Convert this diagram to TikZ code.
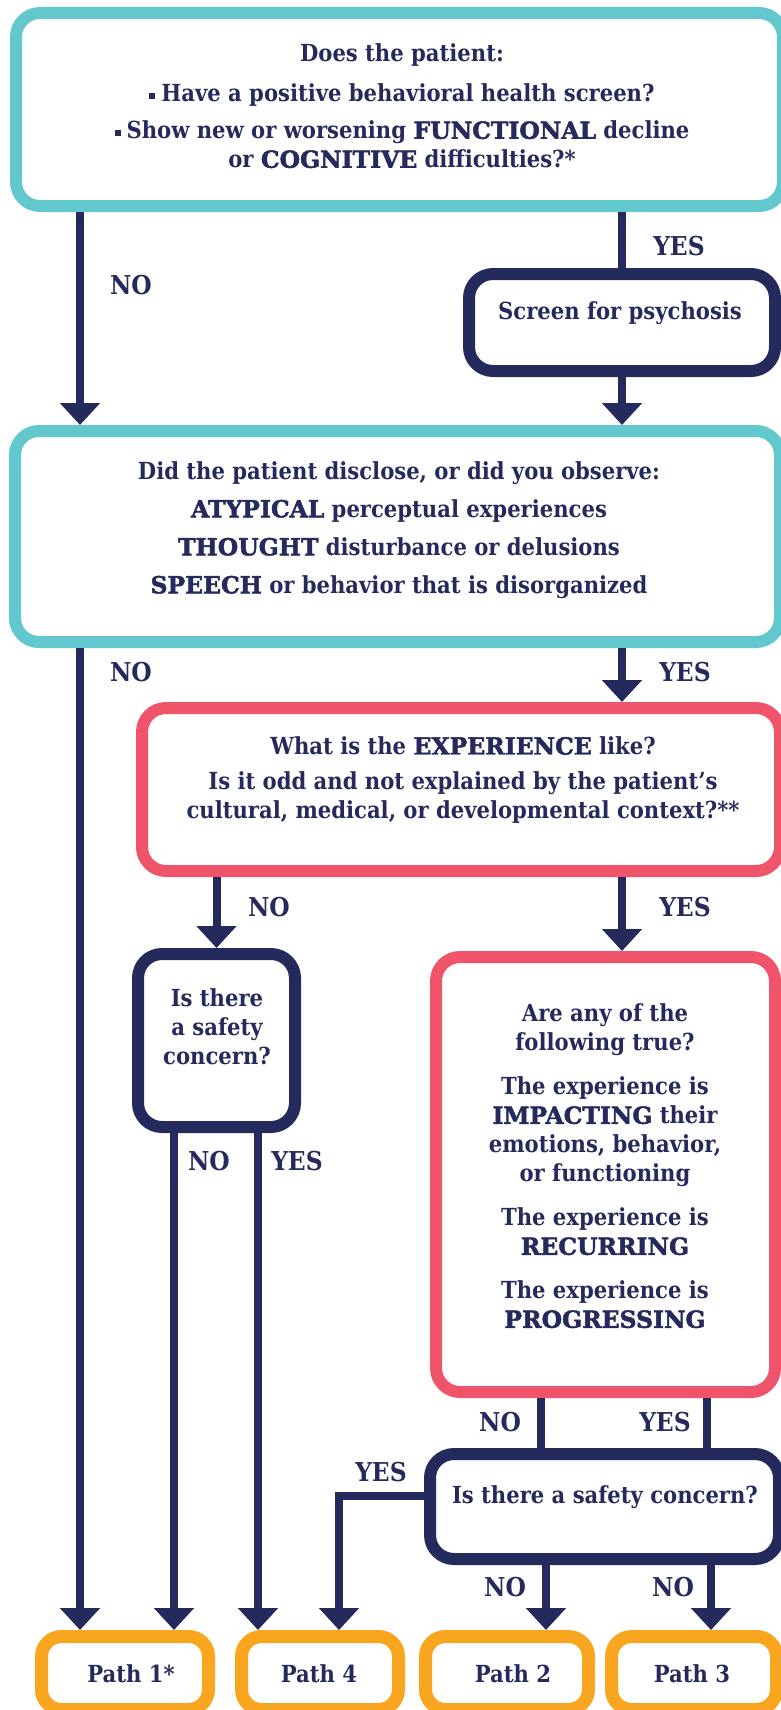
\documentclass[tikz,border=0pt]{standalone}
\usepackage{fontspec}
\newfontfamily\bodyfont{DejaVu Serif Condensed Bold}
\newfontfamily\heavyfont{DejaVu Serif Bold}[FakeBold=2]
\usetikzlibrary{arrows.meta}
\definecolor{qnavy}{HTML}{252A5C}
\definecolor{qteal}{HTML}{62C8CD}
\definecolor{qpink}{HTML}{EF546A}
\definecolor{qorange}{HTML}{F8A51F}
\newcommand\hi[1]{{\heavyfont #1}}
\newcommand\sqbul{\raisebox{3pt}{\rule{6pt}{6pt}}\hspace{6pt}}
\tikzset{
  box/.style={draw, fill=white, rounded corners=24pt, line width=12pt, inner sep=0pt},
  pathbox/.style={box, draw=qorange, line width=13pt, rounded corners=20pt, minimum height=73pt},
  txt/.style={text=qnavy, align=center, inner sep=0pt},
  lbl/.style={text=qnavy, font=\bodyfont\fontsize{26}{26}\selectfont, inner sep=0pt},
  ln/.style={draw=qnavy, line width=8pt},
  arr/.style={ln, -{Triangle[width=39pt,length=22pt]}},
}
\begin{document}
\begin{tikzpicture}[x=1pt,y=-1pt, font=\bodyfont\fontsize{23.5}{29}\selectfont]
\path[use as bounding box, clip] (0,0) rectangle (781,1710);
\node[box, draw=qteal, minimum width=767pt, minimum height=193pt] (q1) at (399.5,109.5) {};
\node[box, draw=qnavy, minimum width=306pt, minimum height=97pt] (sc) at (622,322.5) {};
\node[box, draw=qteal, minimum width=765pt, minimum height=211pt] (q2) at (397.5,536.5) {};
\node[box, draw=qpink, minimum width=638pt, minimum height=163pt] (e1) at (461,789.5) {};
\node[box, draw=qnavy, minimum width=157pt, minimum height=173pt] (s1) at (216.5,1040.5) {};
\node[box, draw=qpink, minimum width=339pt, minimum height=435pt] (t1) at (605.5,1174.5) {};
\node[box, draw=qnavy, minimum width=349pt, minimum height=105pt] (s2) at (604.5,1506.5) {};
\node[pathbox, minimum width=167pt] (p1) at (125,1673) {};
\node[pathbox, minimum width=157pt] (p4) at (320,1673) {};
\node[pathbox, minimum width=163pt] (p2) at (507,1673) {};
\node[pathbox, minimum width=165pt] (p3) at (694,1673) {};

\node[txt] (q1t) at (402,106) {Does the patient:\\[11pt]
  \sqbul Have a positive behavioral health screen?\\[8pt]
  \sqbul Show new or worsening \hi{FUNCTIONAL} decline\\
  or \hi{COGNITIVE} difficulties?*};
\node[txt] (sct) at (620,313) {Screen for psychosis};
\node[txt] (q2t) at (399,530) {Did the patient disclose, or did you observe:\\[9pt]
  \hi{ATYPICAL} perceptual experiences\\[9pt]
  \hi{THOUGHT} disturbance or delusions\\[9pt]
  \hi{SPEECH} or behavior that is disorganized};
\node[txt] (e1t) at (463,780) {What is the \hi{EXPERIENCE} like?\\[6pt]
  Is it odd and not explained by the patient’s\\
  cultural, medical, or developmental context?**};
\node[txt] (s1t) at (217,1027) {Is there\\a safety\\concern?};
\node[txt] (t1t) at (605,1166) {Are any of the\\following true?\\[15pt]
  The experience is\\\hi{IMPACTING} their\\emotions, behavior,\\or functioning\\[15pt]
  The experience is\\\hi{RECURRING}\\[15pt]
  The experience is\\\hi{PROGRESSING}};
\node[txt] (s2t) at (605,1497) {Is there a safety concern?};
\node[txt] (p1t) at (131,1674) {Path 1*};
\node[txt] (p4t) at (319,1674) {Path 4};
\node[txt] (p2t) at (513,1674) {Path 2};
\node[txt] (p3t) at (692,1674) {Path 3};

\coordinate (xno) at (80,0);
\coordinate (xs1no) at (174,0);
\coordinate (xs1yes) at (258,0);
\coordinate (xt1no) at (541,0);
\coordinate (xt1yes) at (707,0);
\coordinate (xp4) at (339,0);
\coordinate (xp2) at (546,0);
\coordinate (xp3) at (711,0);

\draw[arr] (q1.south -| xno) -- (q2.north -| xno);
\draw[ln] (q1.south -| sc.north) -- (sc.north);
\draw[arr] (sc.south) -- (q2.north -| sc.south);
\draw[arr] (q2.south -| xno) -- (p1.north -| xno);
\draw[arr] (q2.south -| sc.south) -- (e1.north -| sc.south);
\draw[arr] (e1.south -| s1.north) -- (s1.north);
\draw[arr] (e1.south -| sc.south) -- (t1.north -| sc.south);
\draw[arr] (s1.south -| xs1no) -- (p1.north -| xs1no);
\draw[arr] (s1.south -| xs1yes) -- (p4.north -| xs1yes);
\draw[ln] (t1.south -| xt1no) -- (s2.north -| xt1no);
\draw[ln] (t1.south -| xt1yes) -- (s2.north -| xt1yes);
\draw[arr] ([yshift=11pt]s2.west) -| (p4.north -| xp4);
\draw[arr] (s2.south -| xp2) -- (p2.north -| xp2);
\draw[arr] (s2.south -| xp3) -- (p3.north -| xp3);

\foreach \x/\y/\t [count=\i] in {131/285/NO, 679/246/YES, 131/672/NO, 685/672/YES,
  269/907/NO, 685/907/YES, 209/1161/NO, 297/1161/YES, 500/1422/NO, 665/1422/YES,
  381/1472/YES, 505/1587/NO, 673/1587/NO}
  \node[lbl] (lab\i) at (\x,\y) {\t};
\end{tikzpicture}
\end{document}
